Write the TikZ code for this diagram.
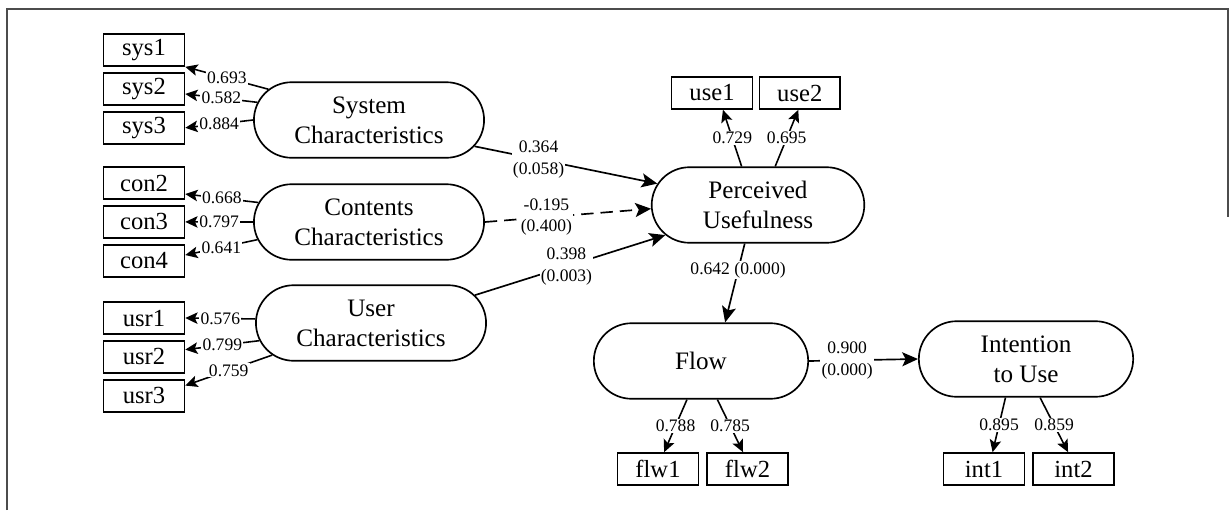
\documentclass[tikz,border=0pt]{standalone}
\usepackage{fontspec}
\setmainfont{Liberation Serif}
\usetikzlibrary{shapes.misc, arrows.meta, positioning}

\begin{document}
\begin{tikzpicture}[
        x=0.02cm, y=-0.02cm,
        construct/.style={
            rounded rectangle,
            draw=black,
            line width=0.95pt,
            align=center,
            minimum width=135pt,
            minimum height=43pt,
            inner sep=2pt,
            font=\fontsize{14.3}{17}\selectfont
        },
        itembox/.style={
            rectangle,
            draw=black,
            line width=0.95pt,
            minimum width=46pt,
            minimum height=18.2pt,
            inner sep=1pt,
            font=\fontsize{14}{16}\selectfont
        },
        loading/.style={
            -{Stealth[length=7pt, width=6.5pt, inset=1.5pt]},
            line width=0.9pt
        },
        effect/.style={
            -{Stealth[length=9pt, width=8pt, inset=2pt]},
            line width=0.95pt
        },
        coef/.style={
            fill=white,
            inner sep=0.6pt,
            align=center,
            font=\fontsize{10}{12.4}\selectfont
        }
    ]
    \useasboundingbox (0,0) rectangle (1229,510);

    % Frame
    \draw[black!70, line width=0.6pt] (7,510) -- (7,9) -- (1228,9) -- (1228,217);

    % Exogenous constructs
    \node[construct] (sysc) at (369,120) {System\\Characteristics};
    \node[construct] (conc) at (369,222) {Contents\\Characteristics};
    \node[construct] (usrc) at (371,323) {User\\Characteristics};

    % Endogenous constructs
    \node[construct, minimum width=125pt] (puse) at (758,205) {Perceived\\Usefulness};
    \node[construct, minimum width=126pt] (flow) at (701,361) {Flow};
    \node[construct, minimum width=126pt] (intu) at (1026,359) {Intention\\to Use};

    % Indicators
    \node[itembox] (sys1) at (144,50) {sys1};
    \node[itembox, below=3pt of sys1] (sys2) {sys2};
    \node[itembox, below=3pt of sys2] (sys3) {sys3};
    \node[itembox] (con2) at (144,183) {con2};
    \node[itembox, below=3pt of con2] (con3) {con3};
    \node[itembox, below=3pt of con3] (con4) {con4};
    \node[itembox] (usr1) at (144,318) {usr1};
    \node[itembox, below=3pt of usr1] (usr2) {usr2};
    \node[itembox, below=3pt of usr2] (usr3) {usr3};
    \node[itembox] (use1) at (712,93) {use1};
    \node[itembox, right=3pt of use1] (use2) {use2};
    \node[itembox] (flw1) at (658,469) {flw1};
    \node[itembox, right=4pt of flw1] (flw2) {flw2};
    \node[itembox] (int1) at (984,469) {int1};
    \node[itembox, right=4pt of int1] (int2) {int2};

    % Loadings
    \draw[loading] (sysc.163) -- node[coef] {0.693} (sys1.south east);
    \draw[loading] (sysc.171) -- node[coef] {0.582} (sys2.-7);
    \draw[loading] (sysc.180) -- node[coef] {0.884} (sys3.east);
    \draw[loading] (conc.170) -- node[coef] {0.668} (con2.-15);
    \draw[loading] (conc.180) -- node[coef] {0.797} (con3.east);
    \draw[loading] (conc.189) -- node[coef] {0.641} (con4.8);
    \draw[loading] (usrc.178) -- node[coef] {0.576} (usr1.east);
    \draw[loading] (usrc.189) -- node[coef] {0.799} (usr2.10);
    \draw[loading] (usrc.198) -- node[coef] {0.759} (usr3.14);
    \draw[loading] (puse.113) -- node[coef] {0.729} (use1.-57);
    \draw[loading] (puse.66) -- node[coef] {0.695} (use2.-95);
    \draw[loading] (flow.250) -- node[coef] {0.788} (flw1.70);
    \draw[loading] (flow.293) -- node[coef] {0.785} (flw2.105);
    \draw[loading] (intu.242) -- node[coef] {0.895} (int1.63);
    \draw[loading] (intu.290) -- node[coef] {0.859} (int2.108);

    % Paths
    \draw[effect] (sysc.-14) -- node[coef, pos=0.35] {0.364\\(0.058)} (puse.168);
    \draw[effect, dash pattern=on 7pt off 4pt] (conc.east) -- node[coef, pos=0.37] {-0.195\\(0.400)} (puse.182);
    \draw[effect] (usrc.15) -- node[coef, pos=0.48] {0.398\\(0.003)} (puse.198);
    \draw[effect] (puse.251) -- node[coef, pos=0.34] {0.642 (0.000)} (flow.58);
    \draw[effect] (flow.east) -- node[coef, pos=0.35] {0.900\\(0.000)} (intu.west);

\end{tikzpicture}
\end{document}
